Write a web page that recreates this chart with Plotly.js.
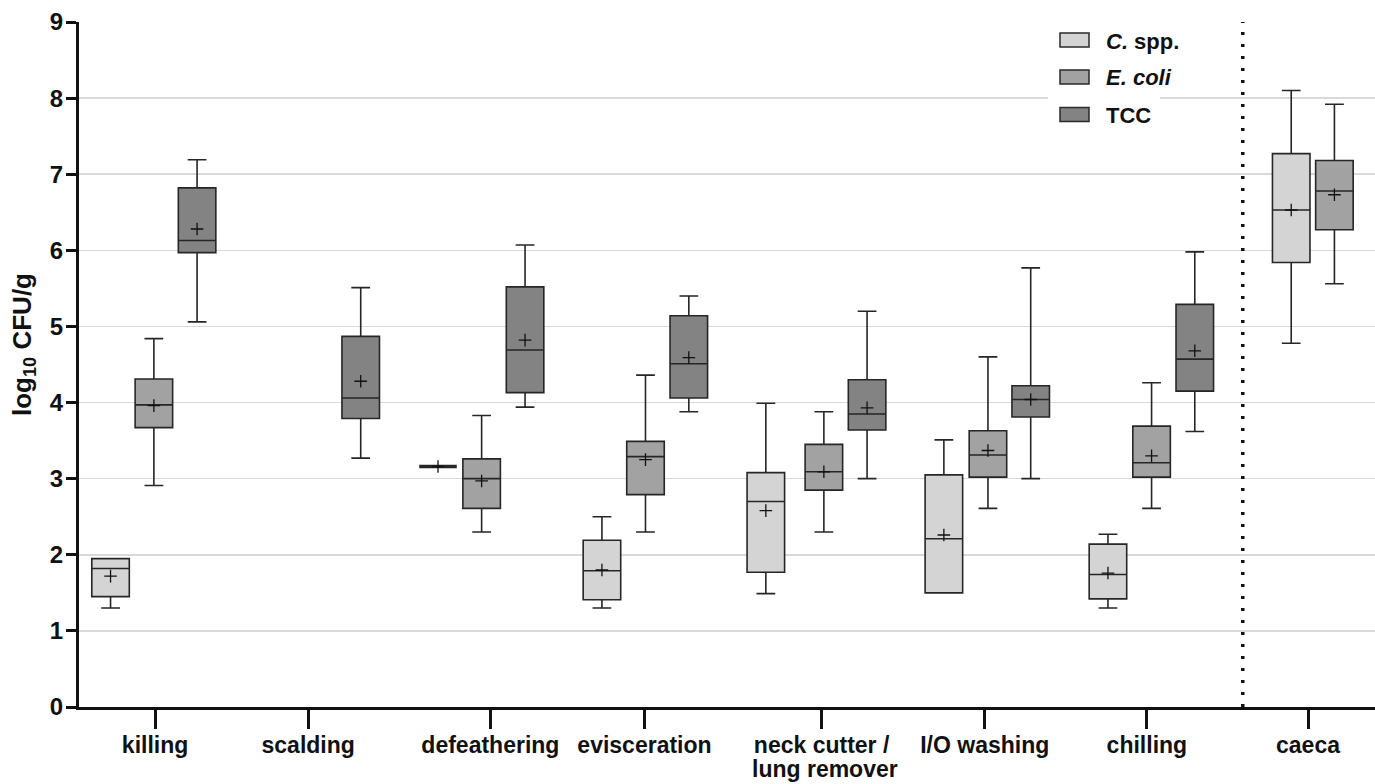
<!DOCTYPE html>
<html>
<head>
<meta charset="utf-8">
<script src="https://cdn.plot.ly/plotly-3.0.1.min.js"></script>
<style>html,body{margin:0;padding:0;background:#fff;}#chart{width:1375px;height:784px;}</style>
</head>
<body>
<div id="chart"></div>
<script>
// ---------------- data (log10 CFU/g) ----------------
const categories = ['killing', 'scalding', 'defeathering', 'evisceration',
  'neck cutter /', 'I/O washing', 'chilling', 'caeca'];
const categorySecondLine = [null, null, null, null, 'lung remover', null, null, null];

// C. spp.
const csppLower  = [1.30, null, 3.16, 1.30, 1.49, 1.50, 1.30, 4.78];
const csppQ1     = [1.45, null, 3.16, 1.41, 1.77, 1.50, 1.42, 5.84];
const csppMedian = [1.82, null, 3.16, 1.79, 2.70, 2.21, 1.74, 6.53];
const csppQ3     = [1.95, null, 3.16, 2.19, 3.08, 3.05, 2.14, 7.27];
const csppUpper  = [1.95, null, 3.16, 2.50, 3.99, 3.51, 2.27, 8.10];
const csppMean   = [1.72, null, 3.16, 1.80, 2.58, 2.26, 1.76, 6.53];

// E. coli
const ecoliLower  = [2.91, null, 2.30, 2.30, 2.30, 2.61, 2.61, 5.56];
const ecoliQ1     = [3.67, null, 2.61, 2.79, 2.85, 3.02, 3.02, 6.27];
const ecoliMedian = [3.97, null, 3.00, 3.29, 3.09, 3.31, 3.21, 6.78];
const ecoliQ3     = [4.31, null, 3.26, 3.49, 3.45, 3.63, 3.69, 7.18];
const ecoliUpper  = [4.84, null, 3.83, 4.36, 3.88, 4.60, 4.26, 7.92];
const ecoliMean   = [3.96, null, 2.97, 3.25, 3.09, 3.37, 3.30, 6.73];

// TCC
const tccLower  = [5.06, 3.27, 3.94, 3.88, 3.00, 3.00, 3.62, null];
const tccQ1     = [5.97, 3.79, 4.13, 4.06, 3.64, 3.81, 4.15, null];
const tccMedian = [6.13, 4.06, 4.69, 4.51, 3.85, 4.04, 4.57, null];
const tccQ3     = [6.82, 4.87, 5.52, 5.14, 4.30, 4.22, 5.29, null];
const tccUpper  = [7.19, 5.51, 6.07, 5.40, 5.20, 5.77, 5.98, null];
const tccMean   = [6.28, 4.28, 4.82, 4.59, 3.93, 4.04, 4.68, null];

const yTicks = [0, 1, 2, 3, 4, 5, 6, 7, 8, 9];

// ---------------- layout constants (positions on the x axis, in box slots) ----------------
const LAYOUT_POS = {
  cspp:  [0.723, null, 8.227, 11.984, 15.74, 19.82, 23.58, 27.78],
  ecoli: [1.716, null, 9.227, 12.982, 17.07, 20.83, 24.58, 28.77],
  tcc:   [2.706, 6.456, 10.222, 13.975, 18.06, 21.81, 25.57, null],
  ticks: [1.743, 5.252, 9.427, 12.959, 17.018, 20.757, 24.472, 28.165],
  divider: 26.67,
  xmax: 29.70
};

const series = [
  {name: 'C. spp.', label: '<i>C.</i> spp.', fill: '#d4d4d4', pos: LAYOUT_POS.cspp,
   lo: csppLower, q1: csppQ1, md: csppMedian, q3: csppQ3, hi: csppUpper, mean: csppMean},
  {name: 'E. coli', label: '<i>E. coli</i>', fill: '#a2a2a2', pos: LAYOUT_POS.ecoli,
   lo: ecoliLower, q1: ecoliQ1, md: ecoliMedian, q3: ecoliQ3, hi: ecoliUpper, mean: ecoliMean},
  {name: 'TCC', label: 'TCC', fill: '#838383', pos: LAYOUT_POS.tcc,
   lo: tccLower, q1: tccQ1, md: tccMedian, q3: tccQ3, hi: tccUpper, mean: tccMean}
];

const traces = [];
const boxW = 0.86;
series.forEach(s => {
  const normal = {x: [], q1: [], median: [], q3: [], lowerfence: [], upperfence: []};
  const single = {x: [], q1: [], median: [], q3: [], lowerfence: [], upperfence: []};
  const mx = [], my = [];
  s.md.forEach((v, i) => {
    if (v === null) return;
    const tgt = (s.q1[i] === s.q3[i]) ? single : normal;
    tgt.x.push(s.pos[i]);
    tgt.q1.push(s.q1[i]); tgt.median.push(v); tgt.q3.push(s.q3[i]);
    tgt.lowerfence.push(s.lo[i]); tgt.upperfence.push(s.hi[i]);
    mx.push(s.pos[i]); my.push(s.mean[i]);
  });
  [[normal, 1.6], [single, 3.4]].forEach(([d, lw]) => {
    if (!d.x.length) return;
    traces.push(Object.assign({
      type: 'box', name: s.name, showlegend: false, hoverinfo: 'skip',
      fillcolor: s.fill, line: {color: '#262626', width: lw},
      width: boxW, whiskerwidth: 0.5, boxpoints: false
    }, d));
  });
  traces.push({
    type: 'scatter', mode: 'markers', x: mx, y: my, showlegend: false, hoverinfo: 'skip',
    marker: {symbol: 'cross-thin', size: 9, color: '#111', line: {color: '#111', width: 1.3}}
  });
});

// ---------------- custom legend & labels (paper coords) ----------------
const L = 79, T = 22, B = 707, R = 1375;
const px = p => (p - L) / (R - L);
const py = p => (B - p) / (B - T);
const shapes = [
  {type: 'line', xref: 'x', yref: 'y', x0: LAYOUT_POS.divider, x1: LAYOUT_POS.divider, y0: 0, y1: 9,
   line: {color: '#111', width: 3.5, dash: '3px,9px'}},
  {type: 'rect', xref: 'paper', yref: 'paper', x0: px(1048), x1: px(1160), y0: py(134), y1: py(28),
   fillcolor: '#fff', line: {width: 0}}
];
const annotations = [];
const legY = [40, 77, 114.5];
series.forEach((s, i) => {
  shapes.push({type: 'rect', xref: 'paper', yref: 'paper', x0: px(1060), x1: px(1089),
    y0: py(legY[i] + 7), y1: py(legY[i] - 7), fillcolor: s.fill, line: {color: '#2a2a2a', width: 1.5}});
  annotations.push({xref: 'paper', yref: 'paper', x: px(1104), y: py(legY[i] + 1), xanchor: 'left', yanchor: 'middle',
    text: s.label, showarrow: false, font: {size: 22, color: '#111', weight: 700}});
});
categorySecondLine.forEach((t, i) => {
  if (!t) return;
  annotations.push({xref: 'x', yref: 'paper', x: LAYOUT_POS.ticks[i] + 0.07, y: py(769), xanchor: 'center', yanchor: 'middle',
    borderpad: 0, text: t, showarrow: false, font: {size: 23, color: '#111', weight: 700}});
});
annotations.push({xref: 'paper', yref: 'paper', x: px(23), y: py(345), xanchor: 'center', yanchor: 'middle',
  textangle: -90, text: 'log<sub>10</sub> CFU/g', showarrow: false, font: {size: 26, color: '#111', weight: 700}});

const layout = {
  width: 1375, height: 784,
  margin: {l: L, r: 1375 - R, t: T, b: 784 - B, pad: 0},
  paper_bgcolor: '#fff', plot_bgcolor: '#fff',
  font: {family: 'Arial, "Liberation Sans", sans-serif', color: '#111', weight: 700},
  showlegend: false,
  xaxis: {
    range: [0, LAYOUT_POS.xmax], tickmode: 'array', tickvals: LAYOUT_POS.ticks, ticktext: categories,
    ticks: 'outside', ticklen: 19, tickwidth: 3, tickcolor: '#111',
    showline: true, linewidth: 3, linecolor: '#111', showgrid: false, zeroline: false,
    tickfont: {size: 23, weight: 700}, ticklabelstandoff: -4, fixedrange: true
  },
  yaxis: {
    range: [0, 9], tickmode: 'array', tickvals: yTicks,
    ticks: 'outside', ticklen: 10, tickwidth: 3, tickcolor: '#111',
    showline: true, linewidth: 3, linecolor: '#111',
    showgrid: true, gridcolor: '#d9d9d9', gridwidth: 1.5, zeroline: false,
    tickfont: {size: 24, weight: 700}, ticklabelstandoff: -2, fixedrange: true
  },
  shapes: shapes,
  annotations: annotations
};

Plotly.newPlot('chart', traces, layout, {displayModeBar: false, staticPlot: true});
</script>
</body>
</html>
